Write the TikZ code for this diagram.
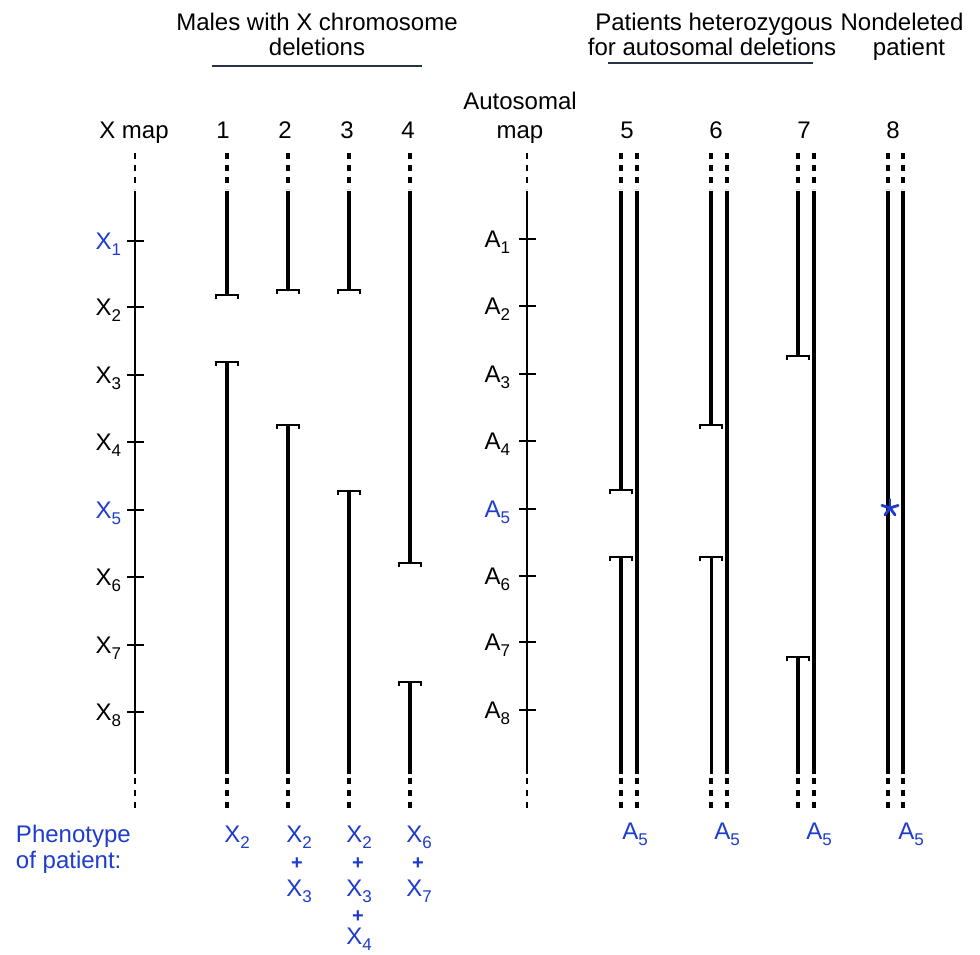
\documentclass[tikz,border=0pt]{standalone}
\usepackage{fontspec}
\setmainfont{Liberation Sans}
\definecolor{lblue}{RGB}{30,60,205}
\newcommand\lsub[1]{\raisebox{-6.5pt}{\fontsize{17}{17}\selectfont #1}}
\begin{document}
\begin{tikzpicture}[x=1pt,y=-1pt,
  lab/.style={font=\fontsize{24}{28}\selectfont, inner sep=0pt, outer sep=0pt},
  blab/.style={lab, text=lblue},
  plus/.style={font=\fontsize{20}{22}\selectfont\bfseries, text=lblue, inner sep=0pt},
  mapline/.style={line width=2.2pt},
  chrom/.style={line width=4.5pt},
  dots/.style={line width=4.5pt, dash pattern=on 6pt off 6pt},
  mapdots/.style={line width=2.2pt, dash pattern=on 6pt off 6pt},
  tickmark/.style={line width=1.8pt},
  brk/.style={line width=2.6pt},
  uline/.style={line width=1.5pt, draw={rgb,255:red,40;green,50;blue,70}},
  brkt/.pic={\draw[brk] (-11,4) -- (-11,0) -- (11,0) -- (11,4);}
]
\fill[white] (0,0) rectangle (980,954);
\useasboundingbox (0,0) rectangle (980,954);

% ---------- titles ----------
\node[lab, anchor=base] (t1a) at (317,30) {Males with X chromosome};
\node[lab, anchor=base] (t1b) at (317,55) {deletions};
\coordinate (u1a) at (212,66); \coordinate (u1b) at (422,66);
\draw[uline] (u1a) -- (u1b);
\node[lab, anchor=base] (t2a) at (714,30) {Patients heterozygous};
\node[lab, anchor=base] (t2b) at (712,55) {for autosomal deletions};
\coordinate (u2a) at (608,63); \coordinate (u2b) at (813,63);
\draw[uline] (u2a) -- (u2b);
\node[lab, anchor=base] (t3a) at (902,30) {Nondeleted};
\node[lab, anchor=base] (t3b) at (909,55) {patient};

\node[lab, anchor=base] (amapa) at (520,109) {Autosomal};
\node[lab, anchor=base] (amapb) at (520,138) {map};
\node[lab, anchor=base] (xmap) at (134,138) {X map};
\node[lab, anchor=base] (n1) at (223,138) {1};
\node[lab, anchor=base] (n2) at (285,138) {2};
\node[lab, anchor=base] (n3) at (347,138) {3};
\node[lab, anchor=base] (n4) at (408,138) {4};
\node[lab, anchor=base] (n5) at (627,138) {5};
\node[lab, anchor=base] (n6) at (716,138) {6};
\node[lab, anchor=base] (n7) at (804,138) {7};
\node[lab, anchor=base] (n8) at (893,138) {8};

% ---------- X map ----------
\coordinate (xt) at (135,153); \coordinate (xs) at (135,191);
\coordinate (xe) at (135,774); \coordinate (xb) at (135,808);
\draw[mapdots] (xt) -- (135,189);
\draw[mapline] (xs) -- (xe);
\draw[mapdots] (135,778) -- (xb);
\foreach \i/\y/\c in {1/241/lblue,2/307/black,3/375/black,4/442/black,5/510/lblue,6/577/black,7/645/black,8/712/black}{
  \coordinate (xk\i) at (135,\y);
  \draw[tickmark] (127,\y) -- (144,\y);
  \node[lab, text=\c, anchor=base east] (xl\i) at (121,\y+8) {X\lsub{\i}};
}

% ---------- A map ----------
\coordinate (at) at (527,153); \coordinate (as) at (527,191);
\coordinate (ae) at (527,774); \coordinate (ab) at (527,808);
\draw[mapdots] (at) -- (527,189);
\draw[mapline] (as) -- (ae);
\draw[mapdots] (527,778) -- (ab);
\foreach \i/\y/\c in {1/239/black,2/306/black,3/374/black,4/441/black,5/509/lblue,6/576/black,7/642/black,8/710/black}{
  \coordinate (ak\i) at (527,\y);
  \draw[tickmark] (519,\y) -- (536,\y);
  \node[lab, text=\c, anchor=base east] (al\i) at (510,\y+8) {A\lsub{\i}};
}

% ---------- dotted ends of all patient chromosomes ----------
\foreach \x in {227,288,349,410,621,637,711,727,798,814,888,903}{
  \draw[dots] (\x,153) -- (\x,189);
  \draw[dots] (\x,778) -- (\x,808);
}

% ---------- patients 1-4 ----------
\foreach \n/\x/\a/\b in {1/227/295/362, 2/288/290/425, 3/349/290/491, 4/410/563/682}{
  \coordinate (p\n s) at (\x,191);
  \coordinate (p\n a) at (\x,\a);
  \coordinate (p\n b) at (\x,\b);
  \coordinate (p\n e) at (\x,774);
  \draw[chrom] (p\n s) -- (p\n a);
  \draw[chrom] (p\n b) -- (p\n e);
  \pic at (p\n a) {brkt};
  \pic at (p\n b) {brkt};
}

% ---------- patients 5-7 (left homolog deleted) ----------
\foreach \n/\x/\r/\a/\b/\w in {5/621/637/490/557/4.5pt, 6/711/727/425/557/3pt, 7/798/814/356/657/4.5pt}{
  \coordinate (q\n s) at (\x,191);
  \coordinate (q\n a) at (\x,\a);
  \coordinate (q\n b) at (\x,\b);
  \coordinate (q\n e) at (\x,774);
  \coordinate (r\n s) at (\r,191);
  \coordinate (r\n e) at (\r,774);
  \draw[chrom] (q\n s) -- (q\n a);
  \draw[chrom, line width=\w] (q\n b) -- (q\n e);
  \draw[chrom] (r\n s) -- (r\n e);
  \pic at (q\n a) {brkt};
  \pic at (q\n b) {brkt};
}

% ---------- patient 8 ----------
\coordinate (q8s) at (888,191); \coordinate (q8e) at (888,774);
\coordinate (r8s) at (903,191); \coordinate (r8e) at (903,774);
\draw[chrom] (q8s) -- (q8e);
\draw[chrom] (r8s) -- (r8e);
\coordinate (star) at (890,508);
\foreach \ang in {90,162,234,306,18}{
  \draw[lblue, line width=2.8pt, line cap=round] (star) -- ++(\ang:-8.5);
}

% ---------- phenotypes ----------
\node[blab, anchor=base west] (ph1) at (16,842) {Phenotype};
\node[blab, anchor=base west] (ph2) at (16,868) {of patient:};

\node[blab, anchor=base] (f1a) at (237,842) {X\lsub{2}};

\node[blab, anchor=base] (f2a) at (299,842) {X\lsub{2}};
\node[plus] (f2p) at (297,864) {+};
\node[blab, anchor=base] (f2b) at (299,896) {X\lsub{3}};

\node[blab, anchor=base] (f3a) at (359,842) {X\lsub{2}};
\node[plus] (f3p) at (358,864) {+};
\node[blab, anchor=base] (f3b) at (359,896) {X\lsub{3}};
\node[plus] (f3q) at (358,917) {+};
\node[blab, anchor=base] (f3c) at (359,944) {X\lsub{4}};

\node[blab, anchor=base] (f4a) at (419,842) {X\lsub{6}};
\node[plus] (f4p) at (418,864) {+};
\node[blab, anchor=base] (f4b) at (419,896) {X\lsub{7}};

\node[blab, anchor=base] (g5) at (635,839) {A\lsub{5}};
\node[blab, anchor=base] (g6) at (727,839) {A\lsub{5}};
\node[blab, anchor=base] (g7) at (819,839) {A\lsub{5}};
\node[blab, anchor=base] (g8) at (911,839) {A\lsub{5}};
\end{tikzpicture}
\end{document}
